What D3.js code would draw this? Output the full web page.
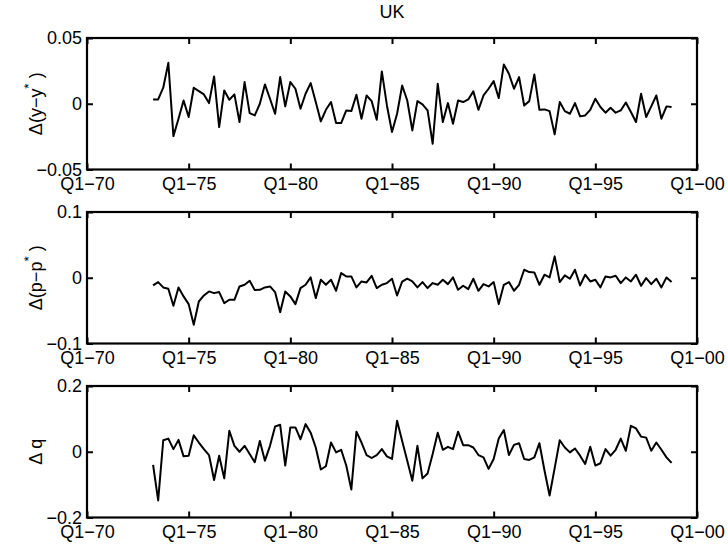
<!DOCTYPE html>
<html>
<head>
<meta charset="utf-8">
<script src="https://cdn.jsdelivr.net/npm/d3@7"></script>
<style>
  html, body { margin: 0; padding: 0; background: #fff; }
  svg { display: block; font-family: "Liberation Sans", Arial, Helvetica, sans-serif; }
</style>
</head>
<body>
<svg id="chart" width="728" height="549"></svg>
<script>
// Quarterly series, 1973Q2 .. 1998Q4
const startYear = 1973, startQuarter = 2;

const dY = [0.0033, 0.0033, 0.0122, 0.0311, -0.0246, -0.0114, 0.0025, -0.0101, 0.0122, 0.0096,
  0.0071, 0.0005, 0.0208, -0.0177, 0.0101, 0.0030, 0.0071, -0.0139, 0.0165, -0.0071,
  -0.0089, 0.0000, 0.0147, 0.0038, -0.0076, 0.0203, -0.0020, 0.0165, 0.0114, -0.0038,
  0.0076, 0.0157, 0.0013, -0.0134, -0.0046, 0.0013, -0.0147, -0.0147, -0.0051, -0.0056,
  0.0068, -0.0114, 0.0063, 0.0020, -0.0122, 0.0246, -0.0013, -0.0215, -0.0076, 0.0139,
  0.0025, -0.0203, 0.0020, -0.0005, -0.0051, -0.0304, 0.0152, -0.0139, 0.0005, -0.0152,
  0.0025, 0.0013, 0.0033, 0.0094, -0.0046, 0.0063, 0.0114, 0.0172, 0.0043, 0.0299,
  0.0228, 0.0114, 0.0203, -0.0013, 0.0020, 0.0223, -0.0046, -0.0043, -0.0056, -0.0233,
  0.0013, -0.0056, -0.0076, 0.0005, -0.0096, -0.0089, -0.0046, 0.0038, -0.0025, -0.0068,
  -0.0030, -0.0068, -0.0051, 0.0010, -0.0063, -0.0139, 0.0076, -0.0101, -0.0020, 0.0063,
  -0.0114, -0.0020, -0.0025];

const dP = [-0.0117, -0.0066, -0.0147, -0.0168, -0.0427, -0.0147, -0.0284, -0.0401, -0.0716, -0.0361,
  -0.0269, -0.0208, -0.0234, -0.0218, -0.0386, -0.0335, -0.0335, -0.0132, -0.0107, -0.0046,
  -0.0188, -0.0183, -0.0147, -0.0132, -0.0218, -0.0523, -0.0208, -0.0284, -0.0401, -0.0157,
  -0.0107, 0.0005, -0.0310, -0.0030, -0.0107, -0.0030, -0.0198, 0.0071, 0.0020, 0.0020,
  -0.0147, -0.0056, -0.0071, 0.0030, -0.0157, -0.0107, -0.0081, -0.0015, -0.0269, -0.0060,
  -0.0015, -0.0056, -0.0147, -0.0066, -0.0157, -0.0081, -0.0107, -0.0030, -0.0097, 0.0005,
  -0.0183, -0.0122, -0.0173, -0.0015, -0.0198, -0.0097, -0.0132, -0.0066, -0.0401, -0.0107,
  -0.0066, -0.0198, -0.0107, 0.0122, 0.0086, 0.0081, -0.0107, 0.0046, 0.0005, 0.0325,
  -0.0066, 0.0036, -0.0015, 0.0122, -0.0117, 0.0046, -0.0056, -0.0030, -0.0147, 0.0020,
  0.0005, 0.0030, -0.0081, 0.0005, -0.0056, 0.0046, -0.0122, -0.0005, -0.0097, -0.0015,
  -0.0147, 0.0005, -0.0066];

const dQ = [-0.040, -0.148, 0.035, 0.040, 0.008, 0.036, -0.014, -0.012, 0.050, 0.028,
  0.008, -0.010, -0.086, -0.012, -0.081, 0.064, 0.018, 0.000, 0.018, -0.007,
  -0.032, 0.033, -0.027, 0.018, 0.077, 0.082, -0.042, 0.074, 0.074, 0.038,
  0.084, 0.058, 0.013, -0.054, -0.044, 0.028, -0.002, 0.006, -0.042, -0.115,
  0.061, 0.028, -0.010, -0.019, -0.010, 0.008, -0.014, -0.022, 0.094, 0.033,
  -0.027, -0.088, 0.018, -0.081, -0.066, -0.007, 0.058, 0.006, 0.015, 0.008,
  0.061, 0.020, 0.020, 0.013, -0.010, -0.017, -0.052, -0.022, 0.040, 0.066,
  -0.010, 0.021, 0.026, -0.022, -0.025, -0.017, 0.026, -0.057, -0.133, -0.050,
  0.035, 0.013, -0.002, 0.010, -0.012, -0.037, 0.015, -0.042, -0.035, 0.008,
  -0.012, 0.006, 0.040, 0.003, 0.079, 0.071, 0.046, 0.043, 0.003, 0.028,
  0.006, -0.017, -0.034];

const xTickValues = [1970, 1975, 1980, 1985, 1990, 1995, 2000];
const xTickLabels = ["Q1\u221270", "Q1\u221275", "Q1\u221280", "Q1\u221285", "Q1\u221290", "Q1\u221295", "Q1\u221200"];

const yTicks1 = [-0.05, 0, 0.05];
const yTickLabels1 = ["\u22120.05", "0", "0.05"];
const yTicks2 = [-0.1, 0, 0.1];
const yTickLabels2 = ["\u22120.1", "0", "0.1"];
const yTicks3 = [-0.2, 0, 0.2];
const yTickLabels3 = ["\u22120.2", "0", "0.2"];

const titleText = "UK";

// panel layout
const svg = d3.select("#chart");
const left = 87, right = 697;
const panelH = 131.5;
const panelTops = [38, 212, 386];
const fontSize = 18;
const tickLen = 6;

const x = d3.scaleLinear().domain([1970, 2000]).range([left, right]);
const timeOf = i => startYear + (startQuarter - 1) / 4 + i / 4;

const panels = [
  { data: dY, ticks: yTicks1, labels: yTickLabels1, label: ["\u0394(y\u2212y", "*", " )"] },
  { data: dP, ticks: yTicks2, labels: yTickLabels2, label: ["\u0394(p\u2212p", "*", " )"] },
  { data: dQ, ticks: yTicks3, labels: yTickLabels3, label: ["\u0394 q", "", ""] }
];

svg.append("text")
  .attr("x", (left + right) / 2)
  .attr("y", 18)
  .attr("text-anchor", "middle")
  .attr("font-size", fontSize)
  .text(titleText);

panels.forEach((p, k) => {
  const top = panelTops[k], bottom = top + panelH;
  const y = d3.scaleLinear()
    .domain([p.ticks[0], p.ticks[p.ticks.length - 1]])
    .range([bottom, top]);
  const g = svg.append("g");

  // series line
  const line = d3.line()
    .x((d, i) => x(timeOf(i)))
    .y(d => y(d));
  g.append("path")
    .datum(p.data)
    .attr("fill", "none")
    .attr("stroke", "#000")
    .attr("stroke-width", 2)
    .attr("stroke-linejoin", "round")
    .attr("d", line);

  // bottom axis with labels, inward ticks
  const xb = d3.axisBottom(x).tickValues(xTickValues)
    .tickFormat((d, i) => xTickLabels[i])
    .tickSizeInner(-tickLen).tickSizeOuter(0).tickPadding(8);
  const gxb = g.append("g").attr("transform", `translate(0,${bottom})`).call(xb);
  // top axis ticks only
  const xt = d3.axisTop(x).tickValues(xTickValues).tickFormat("")
    .tickSizeInner(-tickLen).tickSizeOuter(0);
  const gxt = g.append("g").attr("transform", `translate(0,${top})`).call(xt);

  // left axis with labels
  const yl = d3.axisLeft(y).tickValues(p.ticks)
    .tickFormat((d, i) => p.labels[i])
    .tickSizeInner(-tickLen).tickSizeOuter(0).tickPadding(5);
  const gyl = g.append("g").attr("transform", `translate(${left},0)`).call(yl);
  const yr = d3.axisRight(y).tickValues(p.ticks).tickFormat("")
    .tickSizeInner(-tickLen).tickSizeOuter(0);
  const gyr = g.append("g").attr("transform", `translate(${right},0)`).call(yr);

  [gxb, gxt, gyl, gyr].forEach(ax => {
    ax.select(".domain").remove();
    ax.selectAll("line").attr("stroke", "#000").attr("stroke-width", 2);
    ax.selectAll("text")
      .attr("font-size", fontSize)
      .attr("font-family", "Liberation Sans, Arial, sans-serif")
      .attr("fill", "#000");
  });

  // axes box
  g.append("rect")
    .attr("x", left).attr("y", top)
    .attr("width", right - left).attr("height", panelH)
    .attr("fill", "none").attr("stroke", "#000").attr("stroke-width", 2.2);

  // y label, rotated
  const lab = g.append("text")
    .attr("transform", `translate(42,${(top + bottom) / 2}) rotate(-90)`)
    .attr("text-anchor", "middle")
    .attr("font-size", fontSize);
  lab.append("tspan").text(p.label[0]);
  if (p.label[1]) {
    lab.append("tspan").attr("dy", -9).attr("font-size", fontSize * 0.75).text(p.label[1]);
    lab.append("tspan").attr("dy", 9).text(p.label[2]);
  }
});
</script>
</body>
</html>
